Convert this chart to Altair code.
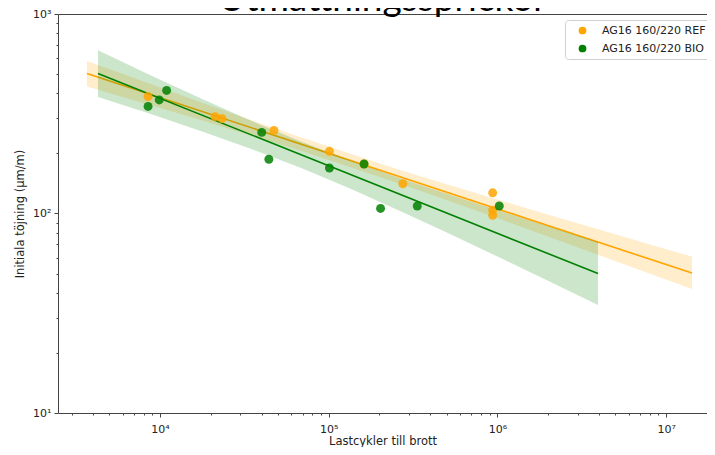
import altair as alt
import pandas as pd

series = ["AG16 160/220 REF", "AG16 160/220 BIO"]
colors = ["#FFA500", "#008000"]

# scatter points
ref_x = [8500, 21200, 23300, 47400, 101000, 162000, 275000, 938000, 938000, 938000]
ref_y = [386, 306, 299, 261, 205, 177, 141, 127, 104, 98]
bio_x = [8500, 9900, 10950, 40100, 44200, 101000, 162000, 203000, 335000, 1026000]
bio_y = [344, 371, 414, 255, 187, 169, 177, 106, 109, 109]

# regression lines (end points)
ref_line_x = [3690, 14240000]
ref_line_y = [503, 50.3]
bio_line_x = [4290, 3948000]
bio_line_y = [503, 50.0]

# confidence bands
ref_band_x = [3690, 8725, 17260, 34160, 67600, 264600, 523600, 1036000, 2050000, 4057000, 8027000, 14240000]
ref_band_hi = [582, 447, 362, 295, 241.5, 165, 138.5, 116.4, 98, 82.8, 70, 60.8]
ref_band_lo = [433, 350, 295, 247, 207, 141, 115.3, 93.8, 76.1, 61.6, 49.9, 41.8]
bio_band_x = [4290, 8725, 17260, 34160, 67600, 133800, 264600, 523600, 1036000, 2050000, 3948000]
bio_band_hi = [658, 495, 379, 293, 230, 185, 150, 124, 103, 85.5, 71.9]
bio_band_lo = [384, 316, 260, 212, 170, 133.5, 103, 79, 60, 45.5, 34.8]

x_major = [1e4, 1e5, 1e6, 1e7]
y_major = [10, 100, 1000]
x_domain = [2486, 17480000]
y_domain = [10, 1000]

points = pd.DataFrame({
    "x": ref_x + bio_x,
    "y": ref_y + bio_y,
    "series": [series[0]] * len(ref_x) + [series[1]] * len(bio_x),
})
ref_line = pd.DataFrame({"x": ref_line_x, "y": ref_line_y})
bio_line = pd.DataFrame({"x": bio_line_x, "y": bio_line_y})
ref_band = pd.DataFrame({"x": ref_band_x, "hi": ref_band_hi, "lo": ref_band_lo})
bio_band = pd.DataFrame({"x": bio_band_x, "hi": bio_band_hi, "lo": bio_band_lo})

x_ticks = [m * 10 ** k for k in range(3, 8) for m in range(1, 10)
           if x_domain[0] <= m * 10 ** k <= x_domain[1]]
y_ticks = [m * 10 ** k for k in range(1, 3) for m in range(1, 10)] + [1000]

sup = {"1": "¹", "2": "²", "3": "³", "4": "⁴", "5": "⁵", "6": "⁶", "7": "⁷"}


def label_expr(majors):
    parts = []
    for v in majors:
        e = str(len(str(int(v))) - 1)
        parts.append(f"datum.value == {int(v)} ? '10{sup[e]}'")
    return " : ".join(parts) + " : ''"


def tick_size(majors):
    arr = ",".join(str(int(v)) for v in majors)
    return {"condition": {"test": f"indexof([{arr}], datum.value) >= 0", "value": 4}, "value": 2}


xscale = alt.Scale(type="log", domain=x_domain, nice=False)
yscale = alt.Scale(type="log", domain=y_domain, nice=False)
cscale = alt.Scale(domain=series, range=colors)

x_axis = alt.Axis(values=x_ticks, labelExpr=label_expr(x_major), tickSize=tick_size(x_major),
                  title="Lastcykler till brott", labelFontSize=11, titleFontSize=11.5,
                  labelPadding=6, titlePadding=1, labelFlush=False, labelOverlap=False, grid=False)
y_axis = alt.Axis(values=y_ticks, labelExpr=label_expr(y_major), tickSize=tick_size(y_major),
                  title="Initiala töjning (μm/m)", labelFontSize=11, titleFontSize=11.5,
                  labelPadding=3, titlePadding=7, labelFlush=False, labelOverlap=False, grid=False)
top_axis = alt.Axis(orient="top", labels=False, ticks=False, title=None, domain=True, grid=False)


def band_layer(df, col):
    return alt.Chart(df).mark_area(fillOpacity=0.2, color=col).encode(
        x=alt.X("x:Q", scale=xscale, axis=None),
        y=alt.Y("lo:Q", scale=yscale, axis=y_axis),
        y2="hi:Q",
    )


def line_layer(df, col, axis=None):
    return alt.Chart(df).mark_line(strokeWidth=1.6, color=col).encode(
        x=alt.X("x:Q", scale=xscale, axis=axis),
        y=alt.Y("y:Q", scale=yscale, axis=y_axis),
    )


point_layer = alt.Chart(points).mark_circle(size=80, opacity=0.85).encode(
    x=alt.X("x:Q", scale=xscale, axis=x_axis),
    y=alt.Y("y:Q", scale=yscale, axis=y_axis),
    color=alt.Color("series:N", scale=cscale, legend=alt.Legend(
        title=None, orient="none", legendX=507, legendY=6, symbolType="circle",
        symbolSize=60, symbolOpacity=1, symbolOffset=7, labelOffset=14,
        labelFontSize=11, labelFont="DejaVu Sans",
        labelColor="#222", strokeColor="#d0d0d0", fillColor="white", padding=5,
        cornerRadius=3, rowPadding=6)),
)

chart = alt.layer(
    band_layer(ref_band, colors[0]),
    line_layer(ref_line, colors[0], top_axis),
    band_layer(bio_band, colors[1]),
    line_layer(bio_line, colors[1]),
    point_layer,
).resolve_axis(x="independent").properties(
    width=649, height=399,
    padding={"left": 50, "top": 6, "right": 0, "bottom": 34},
    autosize=alt.AutoSizeParams(type="none"),
    title=alt.Title("Utmattningssprickor", font="Lato", fontSize=37, fontWeight="normal",
                    baseline="alphabetic", offset=-40, anchor="middle", color="black"),
).configure_view(stroke=None).configure_axis(
    domainColor="#444", tickColor="#444", labelColor="#222", titleColor="#222",
    labelFont="DejaVu Sans", titleFont="DejaVu Sans", titleFontWeight="normal",
)

chart.save("out.html", embed_options={"renderer": "svg", "actions": False})
